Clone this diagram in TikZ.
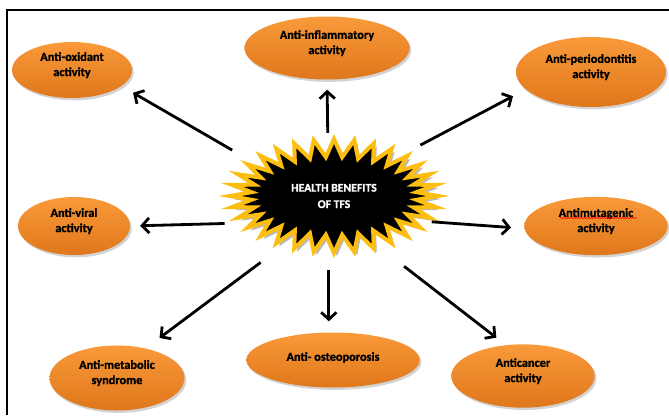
\documentclass[tikz,border=0pt]{standalone}
\usepackage{fontspec}
\setmainfont{Carlito}[BoldFeatures={FakeBold=1.2}]
\usetikzlibrary{shapes.geometric,shadows,arrows.meta,decorations.pathmorphing}

\definecolor{orangetop}{HTML}{F99A3A}
\definecolor{orangebot}{HTML}{DF771B}
\definecolor{stargold}{HTML}{FDBE12}

\tikzset{
  benefit/.style={ellipse, inner sep=0pt, align=center, text depth=10pt,
    font=\fontsize{10.5}{13}\selectfont\bfseries,
    top color=orangetop, bottom color=orangebot,
    drop shadow={shadow xshift=1.5pt, shadow yshift=-2pt, opacity=0.35}},
  hubtext/.style={ellipse, inner sep=0pt, align=center, text=white,
    font=\fontsize{10}{14}\selectfont\bfseries,
    minimum width=6.36cm, minimum height=3.54cm},
  arr/.style={-{Straight Barb[length=6pt,width=13pt]}, line width=2.4pt},
  spell/.style={red, line width=0.5pt, decorate,
    decoration={snake, amplitude=0.5pt, segment length=2.2pt}},
}

\begin{document}
\begin{tikzpicture}[x=0.03cm, y=-0.03cm]

\useasboundingbox (0,0) rectangle (669,415);

% Frame
\draw[line width=1.6pt] (7,415) -- (7,10) -- (669,10);

% Starburst
\fill[gray!55, shift={(337,199)}] (0:104 and 57)
  \foreach \i in {0,...,31} { -- ({\i*11.25}:104 and 57) -- ({\i*11.25+5.625}:83 and 39) } -- cycle;
\filldraw[fill=black, draw=stargold, line width=3.4pt, shift={(334,196)}] (0:104 and 57)
  \foreach \i in {0,...,31} { -- ({\i*11.25}:104 and 57) -- ({\i*11.25+5.625}:83 and 39) } -- cycle;
\node[hubtext] (hub) at (334,196) {HEALTH BENEFITS\\OF TFS};

% Benefits
\node[benefit, minimum width=3.6cm, minimum height=1.68cm] (oxid) at (72,70) {Anti-oxidant\\activity};
\node[benefit, minimum width=4.95cm, minimum height=1.89cm] (inflam) at (327,48) {Anti-inflammatory\\activity};
\node[benefit, minimum width=4.5cm, minimum height=2.1cm] (perio) at (591,72) {Anti-periodontitis\\activity};
\node[benefit, minimum width=3.36cm, minimum height=1.74cm] (viral) at (74,226) {Anti-viral\\activity};
\node[benefit, minimum width=4.3cm, minimum height=1.75cm] (mutag) at (596,226) {Antimutagenic\\activity};
\node[benefit, minimum width=4.05cm, minimum height=1.95cm] (metab) at (117,378) {Anti-metabolic\\syndrome};
\node[benefit, minimum width=5.2cm, minimum height=1.65cm, text depth=6pt] (osteo) at (333,360) {Anti- osteoporosis};
\node[benefit, minimum width=4.3cm, minimum height=1.9cm] (cancer) at (523,376) {Anticancer\\activity};

% spelling mark
\draw[spell] ([xshift=-1.08cm,yshift=0.24cm]mutag.center) -- ++(2.3cm,0);

% Arrows
\draw[arr, shorten <=0.6cm, shorten >=0.4cm] (hub.157) -- (oxid.342);
\draw[arr, shorten <=0.12cm, shorten >=0.3cm] (hub.96) -- (inflam.south);
\draw[arr, shorten <=0.48cm, shorten >=0.43cm] (hub.31) -- (perio.195);
\draw[arr, shorten <=0.45cm, shorten >=0.3cm] (hub.196) -- (viral.east);
\draw[arr, shorten <=0.06cm, shorten >=0.4cm] (hub.345) -- (mutag.182);
\draw[arr, shorten <=0.76cm, shorten >=0.52cm] (hub.224) -- (metab.46);
\draw[arr, shorten <=0.45cm, shorten >=0.33cm] (hub.265) -- (hub.265 |- osteo.north);
\draw[arr, shorten <=0.85cm, shorten >=0.36cm] (hub.312) -- (cancer.119);

\end{tikzpicture}
\end{document}
